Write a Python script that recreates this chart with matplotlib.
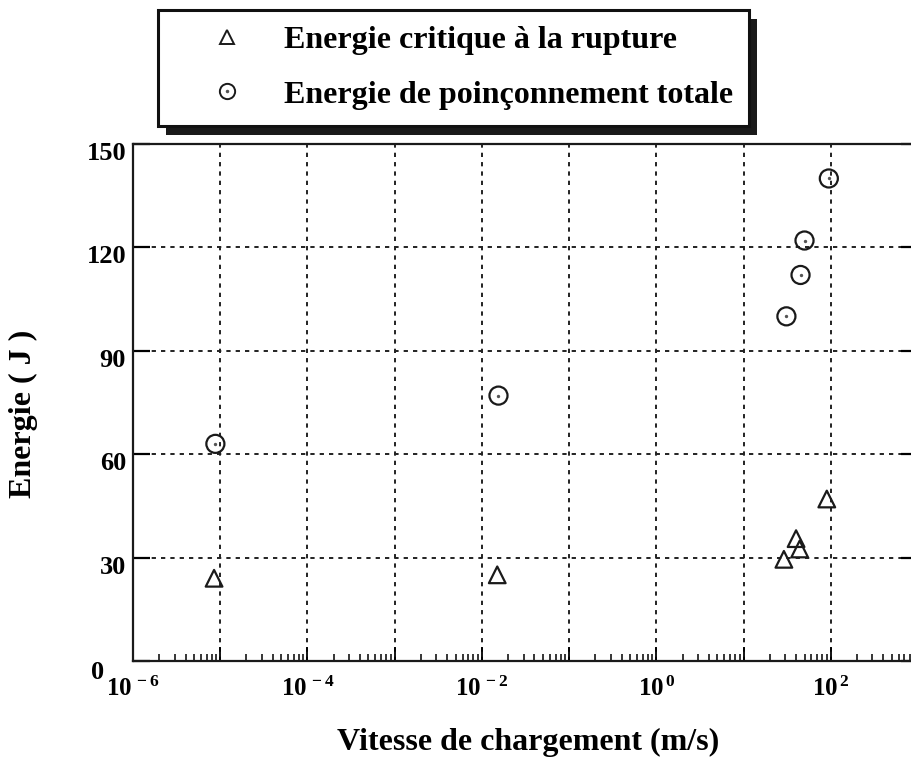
import matplotlib
matplotlib.use('Agg')
import matplotlib.pyplot as plt
from matplotlib.lines import Line2D
from matplotlib.patches import Rectangle
from matplotlib.ticker import FixedLocator, LogLocator, NullFormatter
import matplotlib.transforms as mtransforms

# loading rate (m/s) and energies (J)
vitesse_crit = [8.5e-6, 1.5e-2, 29, 40, 44, 90]
energie_crit = [24, 25, 29.5, 35.5, 32.5, 47]
vitesse_tot = [8.8e-6, 1.55e-2, 31, 45, 50, 95]
energie_tot = [63, 77, 100, 112, 122, 140]

yticks = [0, 30, 60, 90, 120, 150]
xdecades = [1e-6, 1e-5, 1e-4, 1e-3, 1e-2, 1e-1, 1e0, 1e1, 1e2, 1e3]
xlabels = {1e-6: '$10^{\\,-6}$', 1e-4: '$10^{\\,-4}$', 1e-2: '$10^{\\,-2}$',
           1e0: '$10^{\\,0}$', 1e2: '$10^{\\,2}$'}

plt.rcParams['font.family'] = ['Liberation Serif', 'DejaVu Serif']
plt.rcParams['font.weight'] = 'bold'
plt.rcParams['mathtext.fontset'] = 'custom'
plt.rcParams['mathtext.rm'] = 'Liberation Serif:bold'
plt.rcParams['mathtext.it'] = 'Liberation Serif:bold'
plt.rcParams['mathtext.bf'] = 'Liberation Serif:bold'

W, H = 911, 759
fig = plt.figure(figsize=(W / 100, H / 100), dpi=100)
ax = fig.add_axes([133 / W, 1 - 661 / H, 785 / W, 517 / H])

ax.set_xscale('log')
ax.set_xlim(1e-6, 1e3)
ax.set_ylim(0, 150)

# dashed grid at each decade and every 30 J
gs = dict(color='#222222', lw=1.4, ls=(0, (2.2, 2.6)), zorder=1)
for xv in xdecades[1:-1]:
    ax.axvline(xv, **gs)
for yv in yticks[1:-1]:
    ax.axhline(yv, **gs)

ax.scatter(vitesse_crit, energie_crit, marker='^', s=12 ** 2, facecolors='none',
           edgecolors='#1a1a1a', linewidths=1.6, zorder=3)
ax.scatter(vitesse_tot, energie_tot, marker='o', s=13 ** 2, facecolors='none',
           edgecolors='#1a1a1a', linewidths=1.6, zorder=3)
ax.scatter(vitesse_tot, energie_tot, marker='o', s=2, color='#555555', zorder=3)

ax.xaxis.set_major_locator(FixedLocator(xdecades))
ax.set_xticklabels([xlabels.get(v, '') for v in xdecades])
ax.xaxis.set_minor_locator(LogLocator(base=10, subs=range(2, 10), numticks=20))
ax.xaxis.set_minor_formatter(NullFormatter())
ax.set_yticks(yticks)

ax.tick_params(axis='x', which='major', direction='in', length=10, width=1.3,
               labelsize=18, pad=11, top=False)
ax.tick_params(axis='x', which='minor', direction='in', length=5, width=1.1, top=False)
ax.tick_params(axis='y', direction='in', length=12, width=1.6, labelsize=19,
               pad=5, right=True)

# y labels sit a little below their gridline; the zero is pushed further left
shift = mtransforms.ScaledTranslation(0, -7 / 100, fig.dpi_scale_trans)
zero_shift = mtransforms.ScaledTranslation(-22 / 100, -2 / 100, fig.dpi_scale_trans)
for i, lbl in enumerate(ax.get_yticklabels()):
    t = lbl.get_transform() + shift
    if i == 0:
        t = t + zero_shift
    lbl.set_transform(t)

for sp in ax.spines.values():
    sp.set_linewidth(1.6)
    sp.set_color('#1a1a1a')

ax.set_xlabel('Vitesse de chargement (m/s)', fontsize=23, fontweight='bold')
ax.set_ylabel('Energie ( J )', fontsize=23, fontweight='bold')
ax.xaxis.set_label_coords(0.503, -0.13)
ax.yaxis.set_label_coords(-0.121, 0.478)

h_crit = Line2D([], [], ls='none', marker='^', ms=10, mfc='none', mec='#1a1a1a', mew=1.4)
h_ring = Line2D([], [], ls='none', marker='o', ms=11, mfc='none', mec='#1a1a1a', mew=1.4)
h_dot = Line2D([], [], ls='none', marker='o', ms=1.5, color='#555555')
leg = fig.legend([h_crit, (h_ring, h_dot)],
                 ['Energie critique à la rupture', 'Energie de poinçonnement totale'],
                 loc='upper left', bbox_to_anchor=(158 / W, 1 - 10 / H),
                 borderaxespad=0, borderpad=0.5, handlelength=3.3, handletextpad=0.14,
                 labelspacing=0.78, fancybox=False, frameon=True, framealpha=1,
                 prop={'family': 'Liberation Serif', 'weight': 'bold', 'size': 23})
leg.get_frame().set_edgecolor('#111111')
leg.get_frame().set_facecolor('white')
leg.get_frame().set_linewidth(2.2)
leg.set_zorder(5)

# heavy drop shadow behind the legend box
fig.canvas.draw()
bb = leg.get_window_extent()
shadow = Rectangle((bb.x0 + 8, bb.y0 - 9), bb.width, bb.height, transform=None,
                   facecolor='#1a1a1a', edgecolor='none', zorder=4)
fig.patches.append(shadow)

fig.savefig('out.png', dpi=100)
